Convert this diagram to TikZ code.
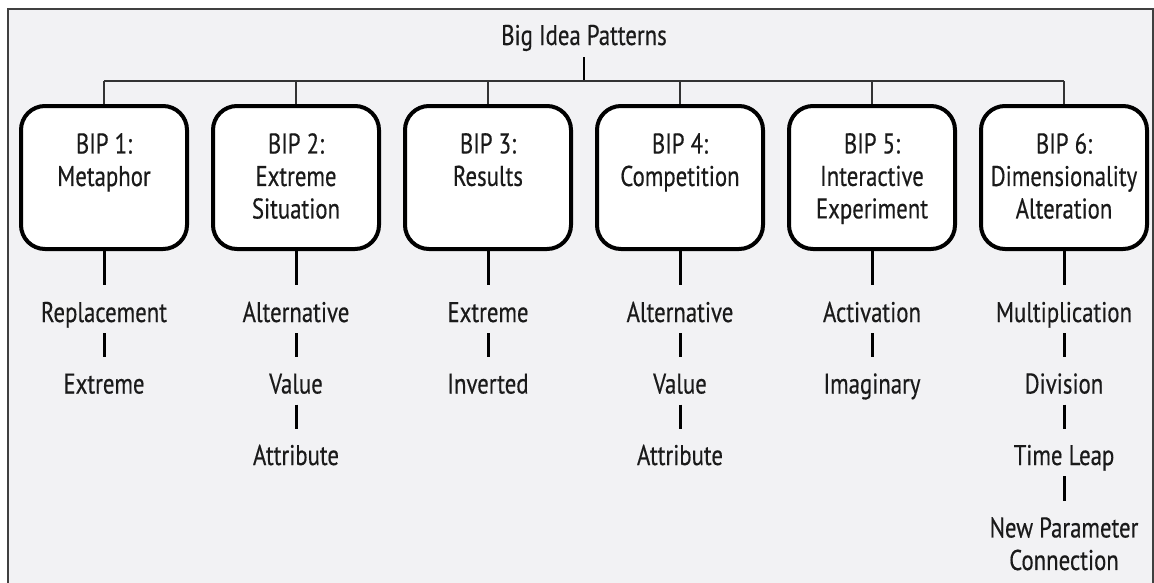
\documentclass[tikz,border=0pt]{standalone}
\usepackage{fontspec}
\setmainfont[FakeStretch=0.8,FakeBold=0.4]{PT Sans}
\definecolor{panel}{HTML}{F2F2F4}
\definecolor{ink}{HTML}{1A1A1A}
\begin{document}
\begin{tikzpicture}[x=1pt,y=-1pt,
  every node/.style={font=\fontsize{28.5}{32.5}\selectfont, text=ink},
  bipbox/.style={draw=black, line width=4pt, fill=white, rounded corners=24pt,
    minimum width=166pt, minimum height=143pt, inner sep=0pt},
  label/.style={anchor=base, align=center, inner sep=0pt, text height=20pt, text depth=0pt},
  multiline/.style={anchor=north, align=center, inner sep=0pt},
  busline/.style={line width=2pt, draw=black!80},
  stem/.style={line width=3pt, draw=black},
  leafstem/.style={stem, shorten <=11pt, shorten >=16pt},
]
\clip (0,0) rectangle (1154,582);
% page frame
\fill[panel] (8,9) rectangle (1153,600);
\draw[line width=1.5pt, black!75] (8,600) -- (8,9) -- (1153,9) -- (1153,600);

% title and bus
\node[label] (title) at (584,45) {Big Idea Patterns};
\coordinate (bus) at (584,81);
\draw[line width=2.5pt] (title.south) ++(0,12) -- (bus);

% pattern boxes, text hung from the cap line of its first row
\foreach \i/\txt in {1/{BIP 1:\\Metaphor},
                     2/{BIP 2:\\Extreme\\Situation},
                     3/{BIP 3:\\Results},
                     4/{BIP 4:\\Competition},
                     5/{BIP 5:\\Interactive\\Experiment},
                     6/{BIP 6:\\Dimensionality\\Alteration}}{
  \node[bipbox] (b\i) at ({104+192*(\i-1)},177.5) {};
  \node[multiline] (t\i) at ({104+192*(\i-1)},133) {\txt};
}
\draw[busline] (b1.north |- bus) -- (b6.north |- bus);
\foreach \i in {1,...,6}{
  \draw[busline] (b\i.north |- bus) -- (b\i.north);
}

% variations under each box
\node[label] (r1a) at (104,322) {Replacement};
\node[label] (r1b) at (104,393.5) {Extreme};

\node[label] (r2a) at (296,322) {Alternative};
\node[label] (r2b) at (296,393.5) {Value};
\node[label] (r2c) at (296,465) {Attribute};

\node[label] (r3a) at (488,322) {Extreme};
\node[label] (r3b) at (488,393.5) {Inverted};

\node[label] (r4a) at (680,322) {Alternative};
\node[label] (r4b) at (680,393.5) {Value};
\node[label] (r4c) at (680,465) {Attribute};

\node[label] (r5a) at (872,322) {Activation};
\node[label] (r5b) at (872,393.5) {Imaginary};

\node[label] (r6a) at (1064,322) {Multiplication};
\node[label] (r6b) at (1064,393.5) {Division};
\node[label] (r6c) at (1064,465) {Time Leap};
\node[multiline] (r6d) at (1064,517) {New Parameter\\Connection};

% connectors
\foreach \i in {1,...,6}{
  \draw[stem, shorten >=17pt] (b\i.south) -- (r\i a.north);
}
\draw[leafstem] (r1a.south) -- (r1b.north);
\draw[leafstem] (r2a.south) -- (r2b.north);
\draw[leafstem] (r2b.south) -- (r2c.north);
\draw[leafstem] (r3a.south) -- (r3b.north);
\draw[leafstem] (r4a.south) -- (r4b.north);
\draw[leafstem] (r4b.south) -- (r4c.north);
\draw[leafstem] (r5a.south) -- (r5b.north);
\draw[leafstem] (r6a.south) -- (r6b.north);
\draw[leafstem] (r6b.south) -- (r6c.north);
\draw[leafstem] (r6c.south) -- (r6d.north);
\end{tikzpicture}
\end{document}
